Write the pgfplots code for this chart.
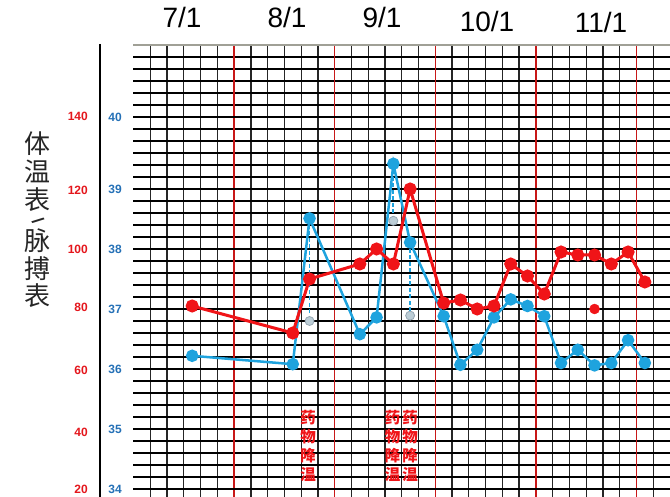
\documentclass[border=0pt]{standalone}
\usepackage{fontspec}
\setmainfont{Liberation Sans}
\newfontfamily\cjk{Noto Sans CJK SC}
\usepackage{pgfplots}
\pgfplotsset{compat=1.18}
\usepackage{pgfplotstable}
\usepackage{graphicx}
\definecolor{pred}{RGB}{240,20,24}
\definecolor{pblue}{RGB}{30,163,222}
\definecolor{dayred}{RGB}{200,24,24}
\definecolor{lightpt}{RGB}{188,205,214}
\definecolor{lightedge}{RGB}{150,166,178}
\definecolor{lblred}{RGB}{228,22,28}
\definecolor{lblblue}{RGB}{36,112,182}
\definecolor{topgray}{RGB}{160,160,150}

% pulse (beats/min), x = 4-hour slot centre
\pgfplotstableread{
x p
3.5 81
9.5 72
10.5 90
13.5 95
14.5 100
15.5 95
16.5 120
18.5 82
19.5 83
20.5 80
21.5 81
22.5 95
23.5 91
24.5 85
25.5 99
26.5 98
27.5 98
28.5 95
29.5 99
30.5 89
}\pulse
\pgfplotstableread{
x p
27.5 80
}\pulseextra
% temperature (axis units)
\pgfplotstableread{
x t
3.5 36.22
9.5 36.08
10.5 38.51
13.5 36.58
14.5 36.86
15.5 39.42
16.5 38.11
18.5 36.88
19.5 36.07
20.5 36.32
21.5 36.86
22.5 37.16
23.5 37.05
24.5 36.88
25.5 36.10
26.5 36.32
27.5 36.06
28.5 36.10
29.5 36.48
30.5 36.10
}\temp
\pgfplotstableread{
x t
10.5 36.80
15.5 38.47
16.5 36.89
}\cooled

\begin{document}
\begin{tikzpicture}
\begin{axis}[name=ax, scale only axis, width=536.5pt, height=452pt,
  xmin=0, xmax=32, ymin=33.8667, ymax=41.4,
  axis line style={draw=none},
  major tick length=0pt, minor tick length=0pt,
  xtick={1,2,3,4,5,7,8,9,10,11,13,14,15,16,17,19,20,21,22,23,25,26,27,28,29,31},
  xticklabels={},
  ytick={34.2,34.4,34.6,34.8,35.2,35.4,35.6,35.8,36.2,36.4,36.6,36.8,37.2,37.4,37.6,37.8,38.2,38.4,38.6,38.8,39.2,39.4,39.6,39.8,40.0,40.4,40.6,40.8,41.0,41.2},
  yticklabels={},
  grid=major,
  x grid style={black!85, line width=1.3pt},
  y grid style={black, line width=1.3pt},
  extra x ticks={6,12,18,24,30},
  extra x tick labels={},
  extra x tick style={grid=major, x grid style={dayred, line width=1.3pt}},
  extra y ticks={34,35,36,37,38,39,40.2},
  extra y tick labels={34,35,36,37,38,39,40},
  extra y tick style={grid=major, y grid style={black, line width=2.8pt},
    yticklabel style={font=\bfseries\fontsize{12}{13}\selectfont, text=lblblue, anchor=east, inner sep=0pt, xshift=-11.5pt}},
]
\addplot[pblue, line width=1.8pt, dash pattern=on 4pt off 2.5pt] coordinates {(10.5,38.51) (10.5,36.80)};
\addplot[pblue, line width=1.8pt, dash pattern=on 4pt off 2.5pt] coordinates {(15.5,39.42) (15.5,38.47)};
\addplot[pblue, line width=1.8pt, dash pattern=on 4pt off 2.5pt] coordinates {(16.5,38.11) (16.5,36.89)};
\addplot[only marks, mark=*, mark size=4.5pt, mark options={fill=lightpt, draw=lightedge, line width=0.8pt}] table[x=x,y=t]{\cooled};
\addplot[pblue, line width=2.5pt, mark=*, mark size=5pt, mark options={solid, fill=pblue}] table[x=x,y=t]{\temp};
\addplot[pred, line width=3pt, mark=*, mark size=5pt, mark options={solid, fill=pred}] table[x=x, y expr={34+(\thisrow{p}-20)/20}]{\pulse};
\addplot[pred, only marks, mark=*, mark size=5pt, mark options={fill=pred}] table[x=x, y expr={34+(\thisrow{p}-20)/20}]{\pulseextra};
\end{axis}
\path ([xshift=-133.5pt,yshift=45pt]ax.north west) coordinate (O);
\begin{scope}[shift={(O)}, x=1pt, y=-1pt]
  \draw[black, line width=1.5pt] (100,44) -- (100,497);
  \draw[topgray, line width=2pt] (133.5,45) -- (670,45);
  % dates
  \foreach \lx/\ly/\lt in {182/28/7\slash 1, 287/28/8\slash 1, 382/28/9\slash 1, 487/31.5/10\slash 1, 601/33/11\slash 1}
    \node[anchor=base, inner sep=0pt, font=\fontsize{28}{30}\selectfont] at (\lx,\ly) {\lt};
  % pulse scale
  \foreach \ly/\lt in {116/140, 190/120, 249/100, 307/80, 370.5/60, 432/40, 489/20}
    \node[anchor=east, inner sep=0pt, text=lblred, font=\bfseries\fontsize{12}{13}\selectfont] at (88,\ly) {\lt};
  % vertical title
  \foreach \ly/\lt in {144/体, 172/温, 200/表, 241/脉, 269/搏, 296/表}
    \node[inner sep=0pt, text=black!85, font=\cjk\fontsize{26}{28}\selectfont] at (38,\ly) {\lt};
  \node[inner sep=0pt, text=black!85, font=\fontsize{17}{18}\selectfont\bfseries] at (38,221) {\rotatebox{-62}{/}};
  % drug cooling notes
  \foreach \lx in {308, 392.5, 410}
    \node[align=center, inner sep=0pt, text=pred, font=\cjk\bfseries\fontsize{15.5}{19}\selectfont] at (\lx,446) {药\\物\\降\\温};
\end{scope}
\pgfresetboundingbox
\useasboundingbox (O) rectangle ([xshift=670pt,yshift=-497pt]O);
\end{tikzpicture}
\end{document}
